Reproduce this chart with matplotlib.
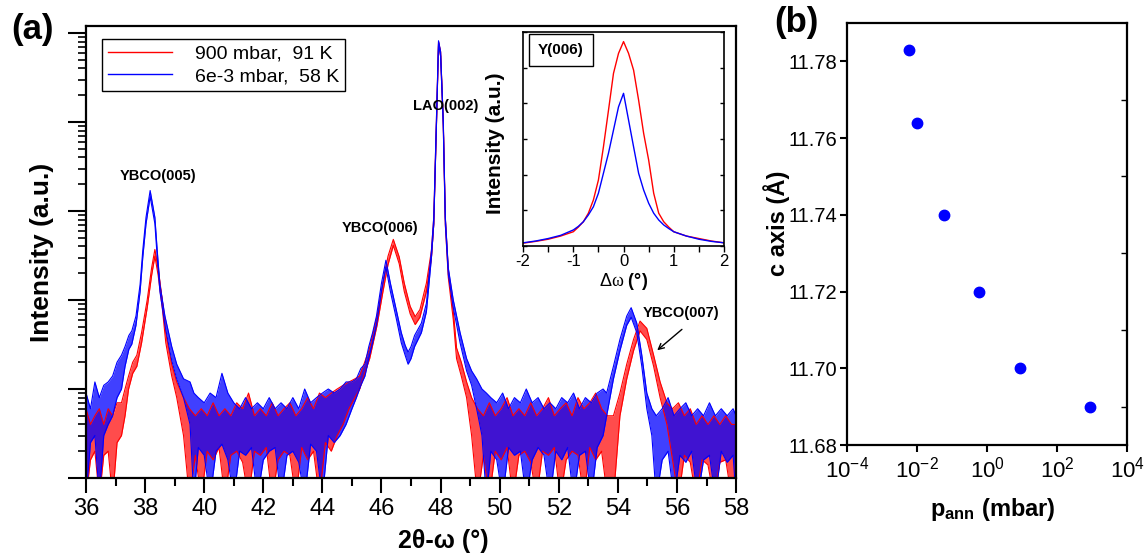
import numpy as np
import matplotlib
matplotlib.use("Agg")
import matplotlib.pyplot as plt
from matplotlib.ticker import MultipleLocator, NullFormatter, LogLocator, FixedLocator, FormatStrFormatter

plt.rcParams['font.family'] = ['Liberation Sans', 'DejaVu Sans']
plt.rcParams['mathtext.fontset'] = 'custom'
plt.rcParams['mathtext.rm'] = 'Liberation Sans'
plt.rcParams['mathtext.it'] = 'Liberation Serif'
plt.rcParams['mathtext.bf'] = 'Liberation Sans:bold'
plt.rcParams['axes.unicode_minus'] = False

# ---- (a) 2theta-omega scan, noise envelope (lo / hi) ----
red_x = [36.00, 36.15, 36.30, 36.45, 36.60, 36.75, 36.90, 37.05, 37.20, 37.32, 37.44, 37.58,
         37.72, 37.88, 38.07, 38.22, 38.33, 38.44, 38.58, 38.70, 38.90, 39.07, 39.30, 39.50,
         39.70, 39.90, 40.10, 40.30, 40.50, 40.70, 40.90, 41.10, 41.30, 41.50, 41.70, 41.90,
         42.10, 42.30, 42.50, 42.70, 42.90, 43.10, 43.30, 43.50, 43.70, 43.90, 44.10, 44.30,
         44.50, 44.70, 44.90, 45.10, 45.26, 45.43, 45.60, 45.85, 46.05, 46.22, 46.40, 46.60,
         46.77, 46.97, 47.14, 47.30, 47.52, 47.69, 47.77, 47.86, 47.93, 48.00, 48.09, 48.16,
         48.26, 48.43, 48.54, 48.70, 48.88, 49.05, 49.25, 49.45, 49.65, 49.85, 50.05, 50.25,
         50.45, 50.65, 50.85, 51.05, 51.25, 51.45, 51.65, 51.85, 52.05, 52.25, 52.45, 52.65,
         52.85, 53.05, 53.25, 53.45, 53.65, 53.85, 54.07, 54.30, 54.53, 54.75, 54.98, 55.21,
         55.43, 55.66, 55.85, 56.05, 56.25, 56.45, 56.65, 56.85, 57.05, 57.25, 57.45, 57.65,
         57.85, 58.00]
red_lo = [0.6, 1.6, 2, 0.6, 1.8, 2, 0.6, 2.5, 3, 5, 10, 15,
          18, 33, 82, 190, 310, 190, 82, 33, 14, 8, 3, 0.6,
          1.8, 0.6, 2, 1.6, 2.2, 0.6, 1.8, 2, 1.5, 0.6, 2, 1.8,
          2.2, 0.6, 1.6, 2, 1.8, 0.6, 2.2, 1.6, 2, 0.6, 2.5, 2,
          3, 4, 6, 8, 10, 15, 22, 52, 125, 250, 410, 255,
          125, 70, 53, 64, 125, 300, 720, 9200, 72000, 55000, 9200, 700,
          180, 60, 22, 14, 8, 3, 0.6, 1.8, 0.6, 2, 1.6, 2.2,
          0.6, 1.8, 2, 1.5, 0.6, 2, 1.8, 2.2, 0.6, 1.6, 2, 1.8,
          0.6, 2.2, 1.6, 2, 0.6, 0.6, 5, 13, 27, 45, 36, 18,
          8, 4, 1.6, 0.6, 1.8, 1.5, 0.6, 1.6, 1.4, 0.6, 1.5, 1.6,
          0.6, 1.5]
red_hi = [6, 4, 5, 6, 4, 6, 5, 7, 7, 10, 14, 20,
          24, 43, 100, 230, 370, 230, 100, 43, 19, 12, 8, 6,
          5, 6, 5, 7, 5, 6, 5, 7, 6, 9, 5, 6,
          5, 7, 5, 6, 7, 5, 6, 8, 6, 9, 8, 9,
          10, 11, 12, 13, 14, 20, 29, 66, 155, 310, 480, 305,
          155, 85, 65, 78, 155, 360, 860, 10800, 80000, 62000, 10800, 840,
          220, 75, 29, 20, 12, 8, 6, 5, 7, 5, 6, 8,
          5, 6, 5, 7, 5, 6, 8, 5, 6, 7, 5, 8,
          6, 7, 9, 6, 5, 5, 9, 19, 36, 58, 48, 24,
          12, 7, 6, 7, 5, 6, 4, 5, 4, 5, 4, 5,
          4, 4]

blue_x = [36.00, 36.15, 36.30, 36.45, 36.60, 36.75, 36.90, 37.05, 37.20, 37.32, 37.45, 37.55,
          37.69, 37.83, 37.92, 38.03, 38.17, 38.33, 38.41, 38.50, 38.67, 38.90, 39.07, 39.30,
          39.52, 39.65, 39.80, 40.00, 40.20, 40.40, 40.60, 40.80, 41.00, 41.20, 41.40, 41.60,
          41.80, 42.00, 42.20, 42.40, 42.60, 42.80, 43.00, 43.20, 43.40, 43.60, 43.80, 44.00,
          44.20, 44.40, 44.60, 44.80, 45.00, 45.15, 45.30, 45.44, 45.57, 45.70, 45.83, 46.00,
          46.15, 46.30, 46.50, 46.67, 46.80, 46.90, 47.00, 47.12, 47.35, 47.52, 47.69, 47.77,
          47.86, 47.93, 48.00, 48.09, 48.16, 48.26, 48.43, 48.66, 48.88, 49.05, 49.22, 49.40,
          49.55, 49.70, 49.90, 50.10, 50.30, 50.50, 50.70, 50.90, 51.10, 51.30, 51.50, 51.70,
          51.90, 52.10, 52.30, 52.50, 52.70, 52.90, 53.10, 53.30, 53.50, 53.62, 53.85, 54.07,
          54.30, 54.45, 54.64, 54.81, 54.98, 55.15, 55.30, 55.50, 55.70, 55.90, 56.10, 56.30,
          56.50, 56.70, 56.90, 57.10, 57.30, 57.50, 57.70, 57.90, 58.00]
blue_lo = [0.6, 2.5, 3, 0.6, 3, 4, 5, 8, 10, 18, 28, 32,
           52, 125, 300, 720, 1450, 720, 300, 125, 52, 21, 13, 8,
           4, 0.6, 2.2, 1.8, 0.6, 2, 2.4, 1.6, 0.6, 2, 1.8, 2.2,
           0.6, 1.6, 2, 2.2, 0.6, 1.8, 2, 1.5, 0.6, 2.4, 2, 0.6,
           3, 2.5, 3, 4, 6, 8, 11, 14, 22, 33, 52, 125,
           235, 125, 62, 33, 24, 19, 22, 30, 43, 74, 300, 720,
           9200, 76000, 55000, 9200, 720, 195, 82, 33, 16, 11, 6, 3,
           0.6, 2, 1.6, 0.6, 2.2, 1.8, 2, 0.6, 1.6, 2.2, 1.8, 0.6,
           2, 1.6, 2.2, 0.6, 1.8, 2, 0.6, 2.2, 3, 5, 13, 27,
           52, 64, 43, 18, 6, 3, 0.6, 1.6, 2, 0.6, 1.8, 1.5,
           2, 0.6, 1.6, 1.8, 0.6, 2, 1.5, 1.8, 0.6]
blue_hi = [9, 6, 12, 8, 11, 12, 14, 20, 24, 30, 40, 45,
           66, 150, 360, 850, 1700, 850, 360, 150, 66, 30, 19, 13,
           12, 9, 8, 7, 9, 8, 15, 9, 7, 6, 8, 6,
           7, 6, 8, 6, 7, 6, 8, 6, 10, 7, 8, 9,
           10, 9, 10, 12, 12, 13, 17, 19, 30, 43, 66, 155,
           280, 155, 78, 43, 31, 26, 30, 40, 55, 92, 360, 860,
           10800, 82000, 62000, 10800, 860, 230, 100, 43, 22, 16, 13, 10,
           9, 8, 7, 9, 6, 8, 7, 10, 7, 8, 6, 7,
           6, 8, 7, 9, 6, 8, 7, 9, 10, 9, 18, 36,
           66, 82, 55, 24, 9, 6, 5, 6, 8, 5, 6, 7,
           5, 6, 5, 7, 5, 6, 5, 6, 5]

legend_labels = ["900 mbar,  91 K", "6e-3 mbar,  58 K"]

# ---- inset: rocking curves of Y(006) ----
dw = [-2.0, -1.75, -1.5, -1.25, -1.0, -0.9, -0.8, -0.7, -0.6, -0.5, -0.4, -0.3, -0.2, -0.1, 0.0,
      0.1, 0.2, 0.3, 0.4, 0.5, 0.6, 0.7, 0.8, 0.9, 1.0, 1.25, 1.5, 1.75, 2.0]
rock_red = [0.08, 0.13, 0.19, 0.28, 0.40, 0.53, 0.68, 0.92, 1.29, 1.85, 2.78, 3.8, 4.84, 5.4, 5.73,
            5.4, 4.93, 4.09, 3.16, 2.41, 1.48, 0.92, 0.68, 0.53, 0.40, 0.28, 0.21, 0.14, 0.09]
rock_blue = [0.09, 0.14, 0.21, 0.30, 0.45, 0.55, 0.68, 0.87, 1.10, 1.48, 2.04, 2.6, 3.25, 3.9, 4.28,
             3.53, 2.78, 2.04, 1.57, 1.20, 0.92, 0.73, 0.59, 0.49, 0.40, 0.28, 0.19, 0.13, 0.09]

# ---- (b) c-axis vs annealing pressure ----
p_ann = [6e-3, 1e-2, 6e-2, 0.6, 9, 900]
c_axis = [11.783, 11.764, 11.740, 11.720, 11.700, 11.690]

RED = '#ff0000'
BLUE = '#0000ff'

fig = plt.figure(figsize=(11.44, 5.58), dpi=100)

# ================= panel (a) =================
ax = fig.add_axes([0.0752, 0.1434, 0.5682, 0.81])
for x, lo, hi, col, a in [(red_x, red_lo, red_hi, RED, 0.7), (blue_x, blue_lo, blue_hi, BLUE, 0.75)]:
    ax.fill_between(x, lo, hi, color=col, alpha=a, lw=0)
    ax.plot(x, hi, color=col, lw=0.8)
    ax.plot(x, lo, color=col, lw=0.8)
ax.set_yscale('log')
ax.set_xlim(36, 58)
ax.set_ylim(1, 1.2e5)
ax.xaxis.set_major_locator(MultipleLocator(2))
ax.xaxis.set_minor_locator(MultipleLocator(1))
ax.yaxis.set_major_locator(LogLocator(base=10))
ax.yaxis.set_minor_locator(LogLocator(base=10, subs=np.arange(2, 10)))
ax.yaxis.set_major_formatter(NullFormatter())
ax.yaxis.set_minor_formatter(NullFormatter())
ax.tick_params(axis='x', which='major', direction='out', length=11, width=1.5, labelsize=17)
ax.tick_params(axis='x', which='minor', direction='out', length=6, width=1.5)
ax.tick_params(axis='y', which='major', direction='out', length=13, width=1.5)
ax.tick_params(axis='y', which='minor', direction='out', length=6, width=1.2)
for s in ax.spines.values():
    s.set_linewidth(1.6)
ax.set_xlabel('2θ-ω (°)', fontsize=18, fontweight='bold')
ax.xaxis.set_label_coords(0.55, -0.113)
ax.set_ylabel('Intensity (a.u.)', fontsize=19, fontweight='bold')
ax.yaxis.set_label_coords(-0.05, 0.5)

# legend uses proxy lines of the two curves
h_red, = ax.plot([], [], color=RED, lw=1)
h_blue, = ax.plot([], [], color=BLUE, lw=1)
leg = ax.legend([h_red, h_blue], legend_labels, loc='upper left', bbox_to_anchor=(0.0246, 0.971),
                fontsize=14, handlelength=3.3, handletextpad=1.2, borderpad=0.3,
                labelspacing=0.25, fancybox=False, framealpha=1, borderaxespad=0)
leg.get_frame().set_edgecolor('black')
leg.get_frame().set_linewidth(1.0)

ann_kw = dict(fontsize=10.5, fontweight='bold', ha='center', va='center')
ax.text(38.42, 2450, 'YBCO(005)', **ann_kw)
ax.text(45.95, 650, 'YBCO(006)', **ann_kw)
ax.text(48.18, 15100, 'LAO(002)', **ann_kw)
ax.text(56.13, 71, 'YBCO(007)', **ann_kw)
ax.annotate('', xy=(55.26, 26), xytext=(56.24, 49),
            arrowprops=dict(arrowstyle='->', color='black', lw=1.0))

fig.text(0.028, 0.948, '(a)', fontsize=25, fontweight='bold', ha='center', va='center')

# ================= inset =================
ins = fig.add_axes([0.4572, 0.5591, 0.1757, 0.3836])
ins.plot(dw, rock_red, color=RED, lw=1.0)
ins.plot(dw, rock_blue, color=BLUE, lw=1.0)
ins.set_xlim(-2, 2)
ins.set_ylim(0, 6)
ins.xaxis.set_major_locator(MultipleLocator(1))
ins.xaxis.set_minor_locator(MultipleLocator(0.5))
ins.yaxis.set_major_locator(MultipleLocator(1))
ins.yaxis.set_major_formatter(NullFormatter())
ins.tick_params(axis='x', which='both', direction='out', length=4, width=1, labelsize=12, pad=2)
ins.tick_params(axis='y', which='both', direction='in', length=3, width=1, left=True, right=True)
for s in ins.spines.values():
    s.set_linewidth(1.2)
ins.set_xlabel(r'$\Delta\omega$ (°)', fontsize=13, fontweight='bold', labelpad=1)
ins.set_ylabel('Intensity (a.u.)', fontsize=15, fontweight='bold')
ins.yaxis.set_label_coords(-0.09, 0.48)
ins.text(0.075, 0.95, 'Y(006)', transform=ins.transAxes, fontsize=11, fontweight='bold',
         ha='left', va='top',
         bbox=dict(boxstyle='square,pad=0.6', fc='white', ec='black', lw=1.0))

# ================= panel (b) =================
bx = fig.add_axes([0.7404, 0.2025, 0.2448, 0.7563])
bx.plot(p_ann, c_axis, 'o', color=BLUE, ms=7.5, mec=BLUE)
bx.set_xscale('log')
bx.set_xlim(1e-4, 1e4)
bx.set_ylim(11.68, 11.79)
bx.xaxis.set_major_locator(FixedLocator([1e-4, 1e-2, 1e0, 1e2, 1e4]))
bx.xaxis.set_minor_locator(FixedLocator([]))
bx.yaxis.set_major_locator(FixedLocator([11.68, 11.70, 11.72, 11.74, 11.76, 11.78]))
bx.yaxis.set_major_formatter(FormatStrFormatter('%.2f'))
bx.yaxis.set_minor_locator(FixedLocator([11.69, 11.71, 11.73, 11.75, 11.77]))
bx.tick_params(axis='x', which='major', direction='out', length=5, width=1.5, labelsize=16)
bx.tick_params(axis='y', which='major', direction='out', length=5, width=1.5, labelsize=14.5, pad=2)
bx.tick_params(axis='y', which='minor', direction='in', length=4, width=1.0, left=False, right=True)
for s in bx.spines.values():
    s.set_linewidth(1.6)
bx.set_xlabel(r'p$_{\mathbf{ann}}$ (mbar)', fontsize=17, fontweight='bold')
bx.xaxis.set_label_coords(0.52, -0.12)
bx.set_ylabel('c axis (Å)', fontsize=17, fontweight='bold')
bx.yaxis.set_label_coords(-0.205, 0.526)

fig.text(0.696, 0.96, '(b)', fontsize=25, fontweight='bold', ha='center', va='center')

fig.savefig('out.png', dpi=100)
